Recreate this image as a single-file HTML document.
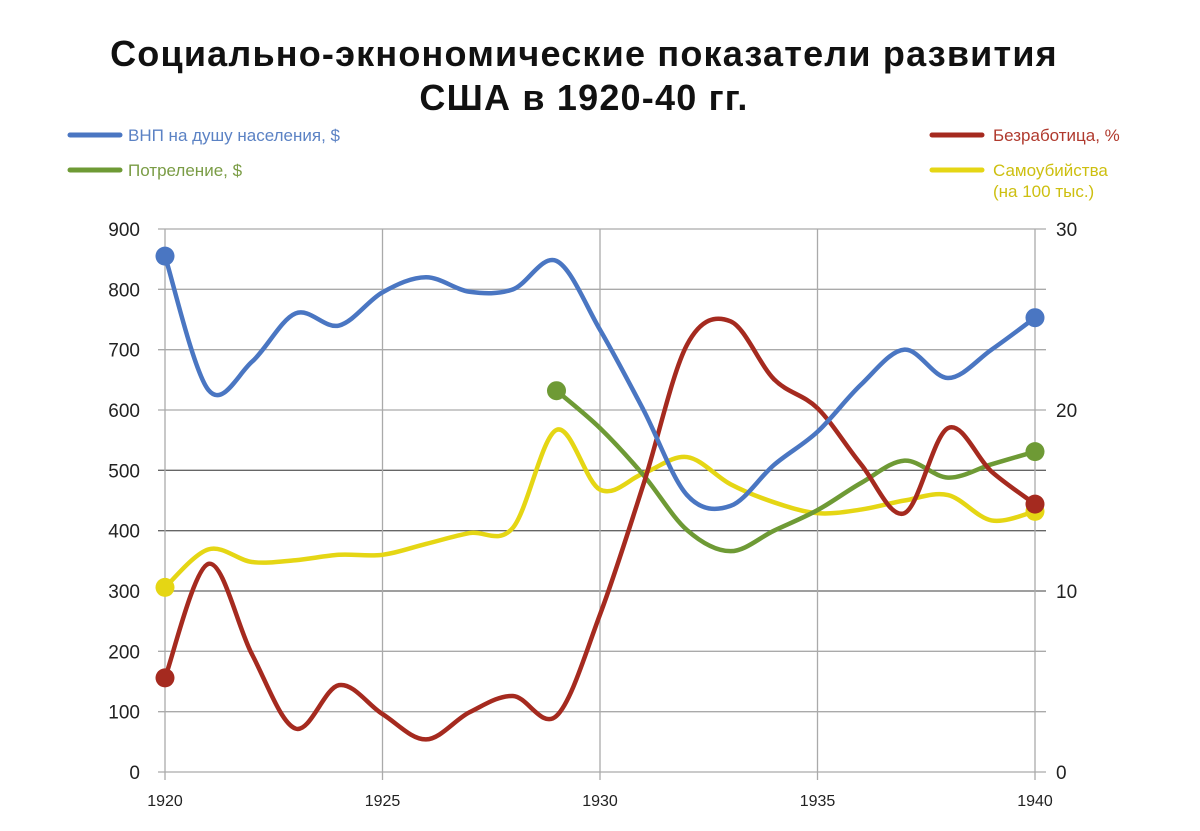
<!DOCTYPE html>
<html><head><meta charset="utf-8">
<style>
html,body{margin:0;padding:0;background:#fff;}
body{width:1200px;height:826px;overflow:hidden;font-family:"Liberation Sans","DejaVu Sans",sans-serif;}
</style></head>
<body>
<svg id="chart" width="1200" height="826" viewBox="0 0 1200 826" xmlns="http://www.w3.org/2000/svg">
<text x="584" y="66" text-anchor="middle" font-size="36" font-weight="bold" letter-spacing="1.2" fill="#111">Социально-экнономические показатели развития</text>
<text x="584" y="110" text-anchor="middle" font-size="36" font-weight="bold" letter-spacing="1.2" fill="#111">США в 1920-40 гг.</text>
<g>
 <g><line x1="70" y1="135" x2="120" y2="135" stroke="#4a76c2" stroke-width="5" stroke-linecap="round"/><text x="128" y="141" font-size="17" fill="#5b82c4">ВНП на  душу  населения, $</text></g>
 <g><line x1="70" y1="170" x2="120" y2="170" stroke="#6e9a35" stroke-width="5" stroke-linecap="round"/><text x="128" y="176" font-size="17" fill="#7a9c45">Потреление, $</text></g>
 <g><line x1="932" y1="135" x2="982" y2="135" stroke="#a52a1f" stroke-width="5" stroke-linecap="round"/><text x="993" y="141" font-size="17" fill="#b03a2e">Безработица, %</text></g>
 <g><line x1="932" y1="170" x2="982" y2="170" stroke="#e5d614" stroke-width="5" stroke-linecap="round"/><text x="993" y="176" font-size="17" fill="#cdbf10">Самоубийства</text><text x="993" y="197" font-size="17" fill="#cdbf10">(на 100 тыс.)</text></g>
</g>
<g id="grid"></g>
<g id="axes"></g>
<g id="series"></g>
</svg>
<script>
const years=[1920,1921,1922,1923,1924,1925,1926,1927,1928,1929,1930,1931,1932,1933,1934,1935,1936,1937,1938,1939,1940];
const gnp=[855,633,680,760,740,795,820,796,800,847,733,600,459,441,509,564,642,700,653,700,753];
const consumptionYears=[1929,1930,1931,1932,1933,1934,1935,1936,1937,1938,1939,1940];
const consumption=[632,570,492,401,366,400,434,479,516,488,510,531];
const unemployment=[5.2,11.5,6.5,2.4,4.8,3.2,1.8,3.3,4.2,3.1,8.7,15.9,23.6,24.9,21.7,20.1,17,14.3,19,16.6,14.8];
const suicides=[10.2,12.3,11.6,11.7,12,12,12.6,13.2,13.5,18.9,15.6,16.5,17.4,15.9,14.9,14.3,14.5,15,15.3,13.9,14.4];
const leftTicks=[0,100,200,300,400,500,600,700,800,900];
const rightTicks=[0,10,20,30];
const xTicks=[1920,1925,1930,1935,1940];

const NS="http://www.w3.org/2000/svg";
const X0=165,X1=1035,YT=229,YB=772;
const xs=y=>X0+(y-1920)/20*(X1-X0);
const yl=v=>YB-v/900*(YB-YT);
const yr=v=>YB-v/30*(YB-YT);
function mk(tag,attrs,parent){const e=document.createElementNS(NS,tag);for(const k in attrs)e.setAttribute(k,attrs[k]);parent.appendChild(e);return e;}
const grid=document.getElementById('grid'),axes=document.getElementById('axes'),series=document.getElementById('series');
leftTicks.forEach(t=>{
  const dark=(t>=300&&t<=500);
  const l=mk('line',{x1:158,x2:1046,y1:yl(t),y2:yl(t),stroke:dark?'#666':'#aaa','stroke-width':1.3},grid);
  
  
  const tx=mk('text',{x:140,y:yl(t)+7,'text-anchor':'end','font-size':19,fill:'#222'},axes);
  tx.textContent=t;
  
  
});
rightTicks.forEach(t=>{
  const tx=mk('text',{x:1056,y:yr(t)+7,'font-size':19,fill:'#222'},axes);
  tx.textContent=t;
  
  
});
xTicks.forEach(t=>{
  const l=mk('line',{x1:xs(t),x2:xs(t),y1:YT,y2:YB+8,stroke:'#aaa','stroke-width':1.3},grid);
  
  
  const tx=mk('text',{x:xs(t),y:806,'text-anchor':'middle','font-size':16,fill:'#222'},axes);
  tx.textContent=t;
  
  
});
function smooth(pts){
  let d='M'+pts[0][0]+','+pts[0][1];
  for(let i=0;i<pts.length-1;i++){
    const p0=pts[i-1]||pts[i],p1=pts[i],p2=pts[i+1],p3=pts[i+2]||p2;
    const c1=[p1[0]+(p2[0]-p0[0])/6,p1[1]+(p2[1]-p0[1])/6];
    const c2=[p2[0]-(p3[0]-p1[0])/6,p2[1]-(p3[1]-p1[1])/6];
    d+=' C'+c1+' '+c2+' '+p2;
  }
  return d;
}
function draw(name,xv,vals,yf,color){
  const pts=vals.map((v,i)=>[xs(xv[i]),yf(v)]);
  const p=mk('path',{d:smooth(pts),fill:'none',stroke:color,'stroke-width':4.5,'stroke-linejoin':'round','stroke-linecap':'round'},series);
  
  
  [pts[0],pts[pts.length-1]].forEach((q,j)=>{
    const c=mk('circle',{cx:q[0],cy:q[1],r:9.5,fill:color},series);
    
    
  });
}
draw('suicides',years,suicides,yr,'#e5d614');
draw('consumption',consumptionYears,consumption,yl,'#6e9a35');
draw('unemployment',years,unemployment,yr,'#a52a1f');
draw('gnp',years,gnp,yl,'#4a76c2');
</script>
</body></html>
